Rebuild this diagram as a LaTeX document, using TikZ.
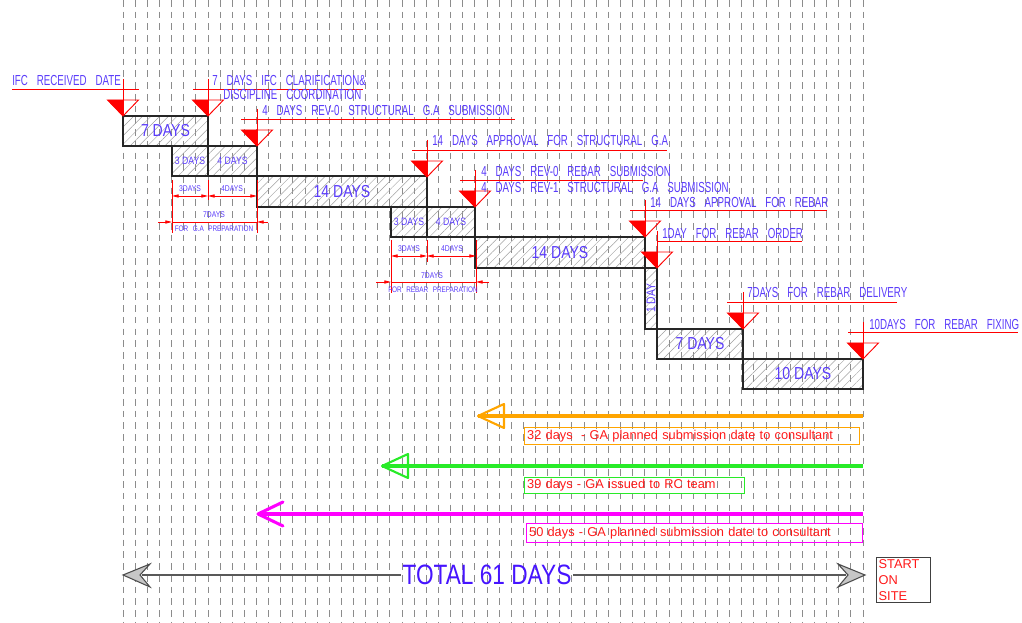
\documentclass[tikz,border=0pt]{standalone}
\usepackage{fontspec}
\setmainfont{Liberation Sans}
\newfontfamily\cad[FakeStretch=0.67,WordSpace=3.3]{Liberation Sans}
\newfontfamily\cadbox[FakeStretch=0.81]{Liberation Sans}
\newfontfamily\cadsmall[FakeStretch=0.8,WordSpace=2.5]{Liberation Sans}
\usetikzlibrary{patterns.meta,arrows.meta}
\definecolor{cadblue}{RGB}{90,60,250}
\definecolor{totblue}{RGB}{70,20,255}
\definecolor{cadred}{RGB}{255,25,25}
\definecolor{gridgray}{RGB}{140,140,140}
\definecolor{orng}{RGB}{255,165,0}
\definecolor{grn}{RGB}{40,235,40}
\definecolor{mag}{RGB}{255,0,255}
\tikzset{
  gridline/.style={gridgray, line width=0.6pt, dash pattern=on 5pt off 3.8pt},
  task/.style={draw=black!85, line width=0.8pt, text=cadblue, inner sep=0pt,
    pattern={Lines[angle=45,distance=4.6pt,line width=0.35pt]}, pattern color=gray!75},
  bigtxt/.style={font=\cadbox\fontsize{13}{15}\selectfont},
  smalltxt/.style={font=\cadbox\fontsize{8}{9}\selectfont},
  redthin/.style={red, line width=0.7pt},
  cadlabel/.style={text=cadblue, font=\cad\fontsize{10.9}{12}\selectfont, inner sep=0pt, anchor=west},
  dimline/.style={red, line width=0.55pt},
  dimtip/.style={-{Triangle[length=5pt,width=2.4pt]}},
  dimlbl/.style={text=cadblue, font=\cadbox\fontsize{6.3}{7}\selectfont, inner sep=0pt},
  dimcap/.style={text=cadblue, font=\cadsmall\fontsize{6}{7}\selectfont, inner sep=0pt},
  notebox/.style={line width=0.7pt, text=cadred, font=\fontsize{9.6}{11}\selectfont,
    anchor=north west, align=left, inner xsep=2pt, inner ysep=0pt},
}
\newcommand\marker[4]{%
  \fill[red] (#1-15.5,#2-16) -- (#1,#2-16) -- (#1,#2) -- cycle;
  \draw[redthin] (#1-15.5,#2-16) -- (#1+15.5,#2-16) -- (#1,#2) -- cycle;
  \draw[redthin] (#1,#2-37) -- (#1,#2);
  \draw[redthin] (#3,#2-27) -- (#4,#2-27);}
\begin{document}
\begin{tikzpicture}[x=0.75pt,y=-0.75pt]
\useasboundingbox (0,0) rectangle (1022,623);
% grid
\foreach \k in {0,...,61} \draw[gridline] ({123+12.131*\k},0) -- ({123+12.131*\k},623);
% task boxes
\node[task,bigtxt,minimum width={85*0.75pt},minimum height={30*0.75pt}] (t1) at (165.5,131) {7 DAYS};
\node[task,smalltxt,minimum width={36*0.75pt},minimum height={30*0.75pt}] (t2a) at (190,161) {3 DAYS};
\node[task,smalltxt,minimum width={49*0.75pt},minimum height={30*0.75pt}] (t2b) at (232.5,161) {4 DAYS};
\node[task,bigtxt,minimum width={170*0.75pt},minimum height={31*0.75pt}] (t3) at (342,191.5) {14 DAYS};
\node[task,smalltxt,minimum width={36*0.75pt},minimum height={30*0.75pt}] (t4a) at (409,222) {3 DAYS};
\node[task,smalltxt,minimum width={48*0.75pt},minimum height={30*0.75pt}] (t4b) at (451,222) {4 DAYS};
\node[task,bigtxt,minimum width={170*0.75pt},minimum height={31*0.75pt}] (t5) at (560,252.5) {14 DAYS};
\node[task,minimum width={12*0.75pt},minimum height={61*0.75pt}] (t6) at (651,298.5) {};
\node[text=cadblue,font=\cadbox\fontsize{9.5}{10}\selectfont,rotate=90,inner sep=0pt] (t6l) at (t6.center) {1 DAY};
\node[task,bigtxt,minimum width={86*0.75pt},minimum height={30*0.75pt}] (t7) at (700,344) {7 DAYS};
\node[task,bigtxt,minimum width={120*0.75pt},minimum height={30*0.75pt}] (t8) at (803,374) {10 DAYS};
% markers
\marker{123}{116}{12}{139}
\marker{208}{116}{193}{363}
\marker{257}{146}{241}{515}
\marker{427}{177}{412}{667}
\marker{475}{207}{460}{643}
\marker{645}{237}{630}{827}
\marker{657}{268}{658}{802}
\marker{743}{329}{727}{897}
\marker{863}{359}{848}{1018}
% labels
\node[cadlabel] (l1) at (12,81) {IFC RECEIVED DATE};
\node[cadlabel] (l2) at (212,81) {7 DAYS IFC CLARIFICATION\&};
\node[cadlabel] (l2b) at (223,95) {DISCIPLINE COORDINATION};
\node[cadlabel] (l3) at (262,111) {4 DAYS REV-0 STRUCTURAL G.A SUBMISSION};
\node[cadlabel] (l4) at (432,141) {14 DAYS APPROVAL FOR STRUCTURAL G.A};
\node[cadlabel] (l5) at (481,172) {4 DAYS REV-0 REBAR SUBMISSION};
\node[cadlabel] (l5b) at (481,188) {4 DAYS REV-1 STRUCTURAL G.A SUBMISSION};
\node[cadlabel] (l6) at (650,203) {14 DAYS APPROVAL FOR REBAR};
\node[cadlabel] (l7) at (662,233) {1DAY FOR REBAR ORDER};
\node[cadlabel] (l8) at (747,293) {7DAYS FOR REBAR DELIVERY};
\node[cadlabel] (l9) at (869,324) {10DAYS FOR REBAR FIXING};
% dimension group A
\draw[dimline] (172,180) -- (172,233);
\draw[dimline] (208,180) -- (208,200);
\draw[dimline] (257,180) -- (257,233);
\draw[dimline,{Triangle[length=5pt,width=2.4pt]}-{Triangle[length=5pt,width=2.4pt]}] (172,196) -- (208,196);
\draw[dimline,{Triangle[length=5pt,width=2.4pt]}-{Triangle[length=5pt,width=2.4pt]}] (208,196) -- (257,196);
\draw[dimline,dimtip] (158,222) -- (172,222);
\draw[dimline] (172,222) -- (257,222);
\draw[dimline,dimtip] (268,222) -- (257,222);
\node[dimlbl] (da1) at (190,189) {3DAYS};
\node[dimlbl] (da2) at (232,189) {4DAYS};
\node[dimlbl] (da3) at (214,215) {7DAYS};
\node[dimcap] (da4) at (214,229) {FOR G.A PREPARATION};
% dimension group B
\draw[dimline] (391,240) -- (391,293);
\draw[dimline] (427,240) -- (427,262);
\draw[dimline] (476,240) -- (476,293);
\draw[dimline,{Triangle[length=5pt,width=2.4pt]}-{Triangle[length=5pt,width=2.4pt]}] (391,256) -- (427,256);
\draw[dimline,{Triangle[length=5pt,width=2.4pt]}-{Triangle[length=5pt,width=2.4pt]}] (427,256) -- (476,256);
\draw[dimline,dimtip] (376,282) -- (391,282);
\draw[dimline] (391,282) -- (476,282);
\draw[dimline,dimtip] (489,282) -- (476,282);
\node[dimlbl] (db1) at (409,249) {3DAYS};
\node[dimlbl] (db2) at (452,249) {4DAYS};
\node[dimlbl] (db3) at (432,276) {7DAYS};
\node[dimcap] (db4) at (433,290) {FOR REBAR PREPARATION};
% orange arrow
\coordinate (oS) at (863,416); \coordinate (oE) at (478,416);
\draw[orng, line width=2.3pt] (oS) -- (oE);
\draw[orng, line width=1.6pt, line join=round] (oE) -- ++(26,-12) -- ++(0,24) -- cycle;
\node[notebox,draw=orng,text width={335*0.75pt-4pt},minimum height={17*0.75pt}] (n1) at (524,427) {32 days\ \ - GA planned submission date to consultant};
% green arrow
\coordinate (gS) at (863,466); \coordinate (gE) at (382,466);
\draw[grn, line width=2.3pt] (gS) -- (gE);
\draw[grn, line width=1.6pt, line join=round] (gE) -- ++(26,-12) -- ++(0,24) -- cycle;
\node[notebox,draw=grn,text width={220*0.75pt-4pt},minimum height={16*0.75pt}] (n2) at (524,477) {39 days - GA issued to RC team};
% magenta arrow
\coordinate (mS) at (863,514); \coordinate (mE) at (258,514);
\draw[mag, line width=2.3pt] (mS) -- (mE);
\draw[mag, line width=2.3pt, line join=round, line cap=round] (283,502) -- (mE) -- (283,526);
\node[notebox,draw=mag,text width={336*0.75pt-4pt},minimum height={19*0.75pt}] (n3) at (526,523) {50 days - GA planned submission date to consultant};
% total arrow
\node[text=totblue, font=\cadbox\fontsize{21}{24}\selectfont, inner sep=1pt] (tot) at (487,575) {TOTAL 61 DAYS};
\coordinate (tL) at (123,575); \coordinate (tR) at (865,575);
\draw[black!65, line width=2pt] (tot.west) -- (142,575);
\draw[black!65, line width=2pt] (tot.east) -- (846,575);
\draw[black!70, fill=gray!45, line width=0.8pt, line join=miter] (tL) -- (150,564) -- (140,575) -- (150,587) -- cycle;
\draw[black!70, fill=gray!45, line width=0.8pt, line join=miter] (tR) -- (838,564) -- (848,575) -- (838,587) -- cycle;
\node[draw=black!75, line width=1pt, text=cadred, font=\fontsize{9.6}{12}\selectfont, align=left,
  anchor=north west, inner xsep=1.5pt, inner ysep=1.5pt, text width={54*0.75pt-3pt}] (site) at (876,557) {START\\ON\\SITE};
\end{tikzpicture}
\end{document}
